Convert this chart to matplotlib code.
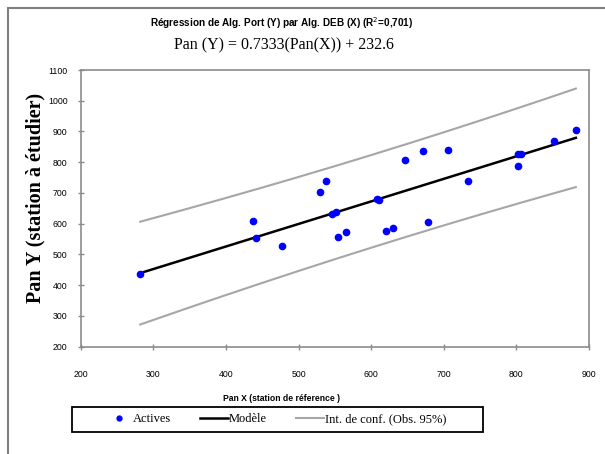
import numpy as np
import matplotlib
matplotlib.use("Agg")
import matplotlib.pyplot as plt
from matplotlib.lines import Line2D
from matplotlib.patches import Rectangle

# Data
pan_x = [282, 438, 442, 477, 529, 538, 546, 551, 555, 566, 608, 611, 621, 630,
         647, 672, 679, 706, 733, 803, 806, 803, 852, 882]
pan_y = [437, 608, 552, 528, 703, 739, 632, 639, 557, 572, 681, 677, 577, 585,
         807, 836, 605, 841, 738, 827, 828, 789, 868, 906]
slope = 0.7333
intercept = 232.6
x_ticks = [200, 300, 400, 500, 600, 700, 800, 900]
y_ticks = [200, 300, 400, 500, 600, 700, 800, 900, 1000, 1100]

title = "Régression de Alg. Port (Y) par Alg. DEB (X) (R$^2$=0,701)"
equation = "Pan (Y) = 0.7333(Pan(X)) + 232.6"
xlabel = "Pan X (station de réference )"
ylabel = "Pan Y (station à étudier)"
legend_labels = ["Actives", "Modèle", "Int. de conf. (Obs. 95%)"]

narrow = ["Liberation Sans Narrow", "Liberation Sans", "DejaVu Sans"]
serif = ["Liberation Serif", "DejaVu Serif"]

fig = plt.figure(figsize=(6.05, 4.54), dpi=100)
ax = fig.add_axes([0.1334, 0.2363, 0.840, 0.6095])

x = np.array(pan_x, float)
y = np.array(pan_y, float)
n = len(x)
xs = np.linspace(min(pan_x), max(pan_x), 200)
fit = slope * xs + intercept
resid = y - (slope * x + intercept)
s = np.sqrt(np.sum(resid ** 2) / (n - 2))
t = 2.074
sxx = np.sum((x - x.mean()) ** 2)
half = t * s * np.sqrt(1 + 1 / n + (xs - x.mean()) ** 2 / sxx)

ax.plot(xs, fit + half, color="#a6a6a6", lw=1.5)
ax.plot(xs, fit - half, color="#a6a6a6", lw=1.5)
ax.plot(xs, fit, color="black", lw=1.8)
ax.plot(pan_x, pan_y, "o", color="#0000ff", ms=4.5, mec="#0000ff")

ax.set_xlim(200, 900)
ax.set_ylim(200, 1100)
ax.set_xticks(x_ticks)
ax.set_yticks(y_ticks)
for sp in ax.spines.values():
    sp.set_color("#8c8c8c")
    sp.set_linewidth(1.2)
ax.tick_params(axis="both", colors="#8c8c8c", length=5, width=1,
               direction="inout", labelcolor="black", labelsize=6.3)
for lab in ax.get_xticklabels() + ax.get_yticklabels():
    lab.set_family(narrow)
ax.tick_params(axis="x", pad=14)
ax.tick_params(axis="y", pad=7)

fig.text(0.466, 0.949, title, ha="center", va="center", fontsize=7.2,
         fontweight="bold", family=narrow)
fig.text(0.469, 0.899, equation, ha="center", va="center", fontsize=11.5,
         family=serif)
fig.text(0.466, 0.123, xlabel, ha="center", va="center", fontsize=6.2,
         fontweight="bold", family=narrow)
fig.text(0.058, 0.564, ylabel, ha="center", va="center", rotation=90,
         fontsize=14.5, fontweight="bold", family=serif)

handles = [Line2D([], [], ls="none", marker="o", color="#0000ff", ms=3.5),
           Line2D([], [], color="black", lw=1.8),
           Line2D([], [], color="#a6a6a6", lw=1.5)]
leg = fig.legend(handles, legend_labels, loc="center",
                 bbox_to_anchor=(0.455, 0.076), ncol=3, frameon=False,
                 handlelength=2.25, handletextpad=0.05, columnspacing=2.3,
                 prop={"family": serif, "size": 9}, borderpad=0.2)

fig.patches.append(Rectangle((72 / 605, 1 - 432 / 454), 411 / 605, 25 / 454,
                             transform=fig.transFigure, fill=False,
                             edgecolor="black", lw=1.3))
fig.patches.append(Rectangle((0.013, -0.1), 1.2, 1.082, transform=fig.transFigure,
                             fill=False, edgecolor="#808080", lw=1.5))

fig.savefig("out.png", dpi=100)
